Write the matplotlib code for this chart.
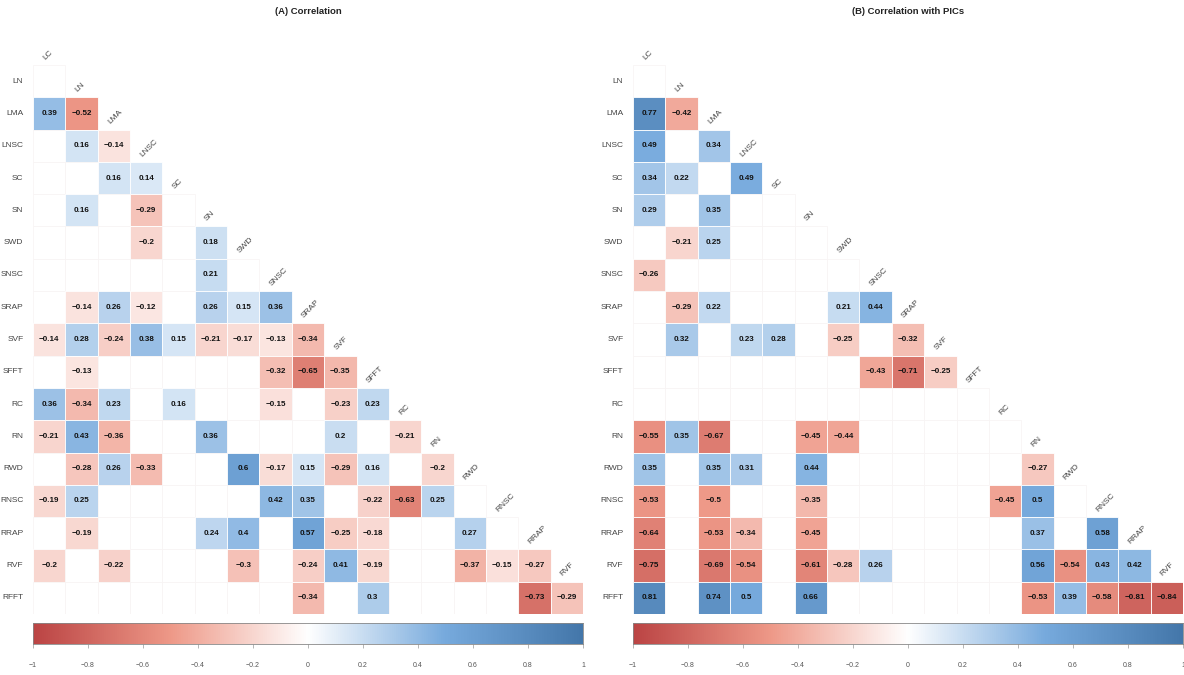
import numpy as np
import matplotlib
matplotlib.use("Agg")
import matplotlib.pyplot as plt
from matplotlib.colors import LinearSegmentedColormap, Normalize
from matplotlib.patches import Rectangle

plt.rcParams['font.family'] = ['Liberation Sans', 'DejaVu Sans']

col_labels = ["LC", "LN", "LMA", "LNSC", "SC", "SN", "SWD", "SNSC", "SRAP",
              "SVF", "SFFT", "RC", "RN", "RWD", "RNSC", "RRAP", "RVF"]
row_labels = ["LN", "LMA", "LNSC", "SC", "SN", "SWD", "SNSC", "SRAP", "SVF",
              "SFFT", "RC", "RN", "RWD", "RNSC", "RRAP", "RVF", "RFFT"]
N = None

corr_a = [
    [N],
    [0.39, -0.52],
    [N, 0.16, -0.14],
    [N, N, 0.16, 0.14],
    [N, 0.16, N, -0.29, N],
    [N, N, N, -0.2, N, 0.18],
    [N, N, N, N, N, 0.21, N],
    [N, -0.14, 0.26, -0.12, N, 0.26, 0.15, 0.36],
    [-0.14, 0.28, -0.24, 0.38, 0.15, -0.21, -0.17, -0.13, -0.34],
    [N, -0.13, N, N, N, N, N, -0.32, -0.65, -0.35],
    [0.36, -0.34, 0.23, N, 0.16, N, N, -0.15, N, -0.23, 0.23],
    [-0.21, 0.43, -0.36, N, N, 0.36, N, N, N, 0.2, N, -0.21],
    [N, -0.28, 0.26, -0.33, N, N, 0.6, -0.17, 0.15, -0.29, 0.16, N, -0.2],
    [-0.19, 0.25, N, N, N, N, N, 0.42, 0.35, N, -0.22, -0.63, 0.25, N],
    [N, -0.19, N, N, N, 0.24, 0.4, N, 0.57, -0.25, -0.18, N, N, 0.27, N],
    [-0.2, N, -0.22, N, N, N, -0.3, N, -0.24, 0.41, -0.19, N, N, -0.37, -0.15, -0.27],
    [N, N, N, N, N, N, N, N, -0.34, N, 0.3, N, N, N, N, -0.73, -0.29],
]

corr_b = [
    [N],
    [0.77, -0.42],
    [0.49, N, 0.34],
    [0.34, 0.22, N, 0.49],
    [0.29, N, 0.35, N, N],
    [N, -0.21, 0.25, N, N, N],
    [-0.26, N, N, N, N, N, N],
    [N, -0.29, 0.22, N, N, N, 0.21, 0.44],
    [N, 0.32, N, 0.23, 0.28, N, -0.25, N, -0.32],
    [N, N, N, N, N, N, N, -0.43, -0.71, -0.25],
    [N, N, N, N, N, N, N, N, N, N, N],
    [-0.55, 0.35, -0.67, N, N, -0.45, -0.44, N, N, N, N, N],
    [0.35, N, 0.35, 0.31, N, 0.44, N, N, N, N, N, N, -0.27],
    [-0.53, N, -0.5, N, N, -0.35, N, N, N, N, N, -0.45, 0.5, N],
    [-0.64, N, -0.53, -0.34, N, -0.45, N, N, N, N, N, N, 0.37, N, 0.58],
    [-0.75, N, -0.69, -0.54, N, -0.61, -0.28, 0.26, N, N, N, N, 0.56, -0.54, 0.43, 0.42],
    [0.81, N, 0.74, 0.5, N, 0.66, N, N, N, N, N, N, -0.53, 0.39, -0.58, -0.81, -0.84],
]

titles = ["(A) Correlation", "(B) Correlation with PICs"]
cbar_ticks = [-1, -0.8, -0.6, -0.4, -0.2, 0, 0.2, 0.4, 0.6, 0.8, 1]

cmap = LinearSegmentedColormap.from_list(
    "corr", ["#BB4444", "#EE9988", "#FFFFFF", "#77AADD", "#4477AA"])
norm = Normalize(-1, 1)

W, H = 1184, 675
fig = plt.figure(figsize=(W / 100, H / 100), dpi=100)


def fx(px):
    return px / W


def fy(py):
    return 1 - py / H


def fmt(v):
    return ("%g" % v).replace("-", "\u2212")


n = len(row_labels)
for p, (data, title) in enumerate(zip([corr_a, corr_b], titles)):
    x0 = 33 + 600 * p
    x1 = x0 + 550
    top, bottom = 65, 614
    ax = fig.add_axes([fx(x0), fy(bottom), fx(x1 - x0), (bottom - top) / H])
    ax.set_xlim(0, n)
    ax.set_ylim(n, 0)
    ax.axis("off")
    for i, row in enumerate(data):
        for j, v in enumerate(row):
            if v is None:
                ax.add_patch(Rectangle((j, i), 1, 1, facecolor="white",
                                       edgecolor="#f7f3f3", lw=0.5))
            else:
                ax.add_patch(Rectangle((j, i), 1, 1, facecolor=cmap(norm(v)),
                                       edgecolor="white", lw=0.6))
                ax.text(j + 0.5, i + 0.5, fmt(v), ha="center", va="center",
                        fontsize=5.8, fontweight="bold", color="#111111")
        ax.text(-0.3, i + 0.5, row_labels[i], ha="right", va="center",
                fontsize=6.0, color="#444444")
    for j, lab in enumerate(col_labels):
        ax.text(j + 0.42, j - 0.12, lab, ha="left", va="bottom", rotation=45,
                rotation_mode="anchor", fontsize=6.0, color="#444444")

    fig.text(fx(x0 + 275), fy(12), title, ha="center", va="center",
             fontsize=6.8, fontweight="bold", color="#222222")

    cax = fig.add_axes([fx(x0), fy(644), fx(550), 21 / H])
    grad = np.linspace(-1, 1, 512).reshape(1, -1)
    cax.imshow(grad, aspect="auto", cmap=cmap, norm=norm,
               extent=[-1, 1, 0, 1])
    cax.set_xlim(-1, 1)
    cax.set_yticks([])
    cax.set_xticks(cbar_ticks)
    cax.set_xticklabels([("%g" % t).replace("-", "\u2212") for t in cbar_ticks])
    cax.tick_params(axis="x", length=3, width=0.5, color="#999999",
                    labelsize=5, labelcolor="#555555", pad=10)
    for s in cax.spines.values():
        s.set_edgecolor("#888888")
        s.set_linewidth(0.6)

fig.savefig("out.png", dpi=100)
